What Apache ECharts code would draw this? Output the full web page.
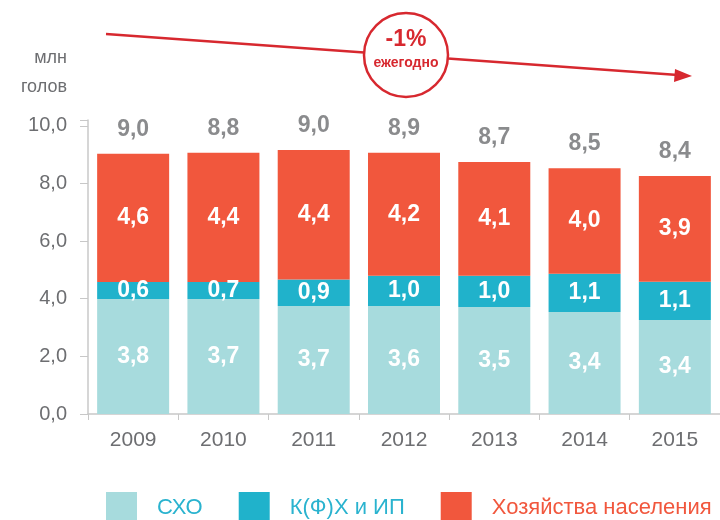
<!doctype html>
<html lang="ru">
  <head>
    <meta charset="utf-8">
    <title>Поголовье</title>
    <script src="https://cdn.jsdelivr.net/npm/echarts@6.0.0/dist/echarts.min.js"></script>
    <style>
      html, body {
        width: 100%;
        height: 100%;
        margin: 0;
        background: #fff;
      }

      #chart {
        width: 720px;
        height: 520px;
      }
    </style>
  </head>
  <body>
    <div id="chart"></div>
    <script>
      // годы и значения (подписи как на картинке)
      const years = ['2009', '2010', '2011', '2012', '2013', '2014', '2015'];
      const shoValues = [3.8, 3.7, 3.7, 3.6, 3.5, 3.4, 3.4];
      const kfhValues = [0.6, 0.7, 0.9, 1.0, 1.0, 1.1, 1.1];
      const hnValues = [4.6, 4.4, 4.4, 4.2, 4.1, 4.0, 3.9];
      const totals = [9.0, 8.8, 9.0, 8.9, 8.7, 8.5, 8.4];

      // высоты столбиков (не совпадают с подписями)
      const shoBars = [3.99, 3.99, 3.75, 3.75, 3.71, 3.54, 3.26];
      const kfhBars = [0.59, 0.59, 0.92, 1.05, 1.09, 1.33, 1.33];
      const hnBars = [4.45, 4.48, 4.49, 4.26, 3.94, 3.66, 3.67];

      const seriesNames = ['СХО', 'К(Ф)Х и ИП', 'Хозяйства населения'];
      const barColors = ['#a7dbdd', '#20b2cb', '#f1573d'];
      const legendColors = ['#2ab3cf', '#2ab3cf', '#f1573d'];

      const FONT = '"Liberation Sans", Arial, sans-serif';
      const GRAY = '#6d6e71';
      const RED = '#d7282f';

      const fmt = (v) => v.toFixed(1).replace('.', ',');

      let chart = echarts.init(document.getElementById('chart'), null, {renderer: 'canvas'});

      const barSeries = (i, bars, labels) => ({
        name: seriesNames[i],
        type: 'bar',
        stack: 'all',
        barWidth: 72,
        animation: false,
        itemStyle: { color: barColors[i] },
        label: {
          show: true,
          position: 'inside',
          color: '#fff',
          fontFamily: FONT,
          fontWeight: 'bold',
          fontSize: 23,
          formatter: (p) => fmt(labels[p.dataIndex])
        },
        data: bars
      });

      const tops = years.map((y, i) => shoBars[i] + kfhBars[i] + hnBars[i]);

      let option = {
        animation: false,
        grid: {
          left: 88,
          right: -8,
          top: 120,
          bottom: 106
        },
        legend: {
          left: 106,
          top: 492,
          padding: 0,
          itemWidth: 31,
          itemHeight: 31,
          itemGap: 36,
          icon: 'rect',
          textStyle: {
            fontFamily: FONT,
            fontSize: 22,
            padding: [0, 0, 0, 15]
          },
          data: seriesNames.map((n, i) => ({ name: n, textStyle: { color: legendColors[i] } }))
        },
        xAxis: {
          type: 'category',
          data: years,
          axisLine: { lineStyle: { color: '#c8c8c8', width: 1.5 } },
          axisTick: { show: true, length: 6, lineStyle: { color: '#c8c8c8' } },
          axisLabel: {
            margin: 16,
            color: GRAY,
            fontFamily: FONT,
            fontSize: 21
          }
        },
        yAxis: {
          type: 'value',
          min: 0,
          max: 10.2,
          interval: 2,
          axisLine: { show: true, lineStyle: { color: '#c8c8c8', width: 1.5 } },
          axisTick: { show: true, length: 8, lineStyle: { color: '#c8c8c8' } },
          splitLine: { show: false },
          axisLabel: {
            margin: 21,
            color: GRAY,
            fontFamily: FONT,
            fontSize: 20,
            formatter: (v) => (v > 10.01 ? '' : fmt(v))
          }
        },
        series: [
          barSeries(0, shoBars, shoValues),
          barSeries(1, kfhBars, kfhValues),
          barSeries(2, hnBars, hnValues),
          {
            type: 'scatter',
            symbolSize: 0,
            silent: true,
            label: {
              show: true,
              position: 'top',
              distance: 13,
              color: GRAY,
              fontFamily: FONT,
              fontWeight: 'bold',
              fontSize: 23,
              formatter: (p) => fmt(totals[p.dataIndex])
            },
            data: tops
          }
        ],
        graphic: [
          // единицы измерения
          {
            type: 'text', right: 653, top: 49,
            style: { text: 'млн', fill: GRAY, font: '18px ' + FONT, textAlign: 'right' }
          },
          {
            type: 'text', right: 653, top: 78,
            style: { text: 'голов', fill: GRAY, font: '18px ' + FONT, textAlign: 'right' }
          },
          // стрелка тренда
          {
            type: 'line',
            shape: { x1: 106, y1: 34, x2: 678, y2: 75 },
            style: { stroke: RED, lineWidth: 2.5 }
          },
          {
            type: 'polygon',
            shape: { points: [[692, 76], [675, 69], [674, 82]] },
            style: { fill: RED }
          },
          {
            type: 'circle',
            shape: { cx: 406, cy: 55, r: 42 },
            style: { fill: '#fff', stroke: RED, lineWidth: 2.5 }
          },
          {
            type: 'text', x: 406, y: 40,
            style: {
              text: '-1%', fill: RED, font: 'bold 23px ' + FONT,
              textAlign: 'center', textVerticalAlign: 'middle'
            }
          },
          {
            type: 'text', x: 406, y: 63,
            style: {
              text: 'ежегодно', fill: RED, font: 'bold 14px ' + FONT,
              textAlign: 'center', textVerticalAlign: 'middle'
            }
          }
        ]
      };

      chart.setOption(option);
    </script>
  </body>
</html>
